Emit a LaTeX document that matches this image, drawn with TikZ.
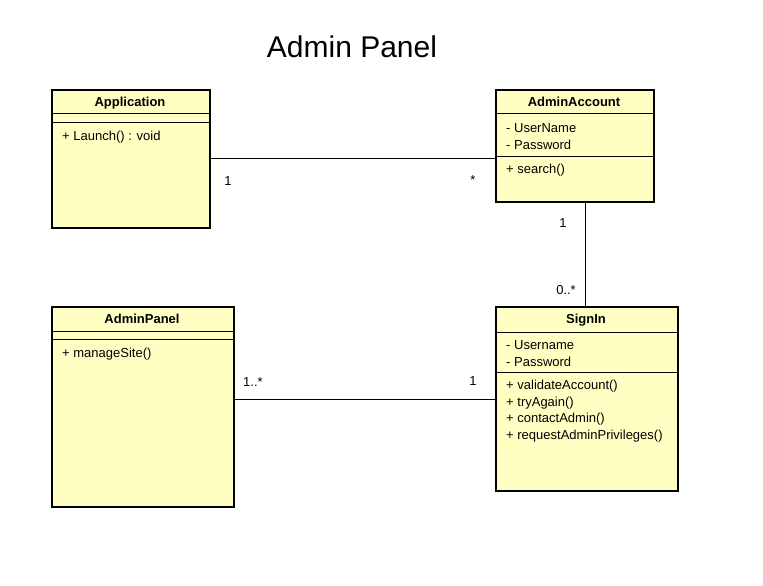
\documentclass[tikz,border=0pt]{standalone}
\usepackage{fontspec}
\setmainfont{Liberation Sans}
\usetikzlibrary{calc}
\definecolor{clsfill}{RGB}{255,255,195}
\tikzset{
  cls/.style={draw=black, line width=1.6pt, fill=clsfill, anchor=north west, inner sep=0pt},
  sep/.style={draw=black, line width=0.9pt},
  cname/.style={font=\fontsize{13}{15}\selectfont\bfseries, inner sep=0pt, text height=9.4pt, text depth=0pt},
  mem/.style={font=\fontsize{13}{15}\selectfont, anchor=west, inner sep=0pt},
  mult/.style={font=\fontsize{13}{15}\selectfont, inner sep=0pt},
  assoc/.style={draw=black, line width=0.8pt}
}
\begin{document}
\begin{tikzpicture}[x=1pt,y=-1pt]
\useasboundingbox[fill=white] (0,0) rectangle (763,586);
\node[font=\fontsize{30}{34}\selectfont, inner sep=0pt] (title) at (352,47) {Admin Panel};

% Application
\node[cls, minimum width=158pt, minimum height=138pt] (app) at (51,89) {};
\node[cname] (appn) at (130,102) {Application};
\draw[sep] (51,113) -- (209,113);
\draw[sep] (51,122) -- (209,122);
\node[mem] (appm1) at (62,137) {+ Launch() : void};

% AdminAccount
\node[cls, minimum width=158pt, minimum height=112pt] (acc) at (495,89) {};
\node[cname] (accn) at (574,102) {AdminAccount};
\draw[sep] (495,113) -- (653,113);
\draw[sep] (495,156) -- (653,156);
\node[mem] (acca1) at (506,128) {- UserName};
\node[mem] (acca2) at (506,145) {- Password};
\node[mem] (accm1) at (506,170) {+ search()};

% AdminPanel
\node[cls, minimum width=182pt, minimum height=200pt] (panel) at (51,306) {};
\node[cname] (paneln) at (142,319) {AdminPanel};
\draw[sep] (51,331) -- (233,331);
\draw[sep] (51,339) -- (233,339);
\node[mem] (panelm1) at (62,354) {+ manageSite()};

% SignIn
\node[cls, minimum width=182pt, minimum height=184pt] (sign) at (495,306) {};
\node[cname] (signn) at (586,319) {SignIn};
\draw[sep] (495,332) -- (677,332);
\draw[sep] (495,372) -- (677,372);
\node[mem] (signa1) at (506,345) {- Username};
\node[mem] (signa2) at (506,362) {- Password};
\node[mem] (signm1) at (506,386) {+ validateAccount()};
\node[mem] (signm2) at (506,403) {+ tryAgain()};
\node[mem] (signm3) at (506,419.5) {+ contactAdmin()};
\node[mem] (signm4) at (506,436) {+ requestAdminPrivileges()};

% connectors
\draw[assoc] (app.east) -- (app.east -| acc.west);
\node[mult] (m1) at (228,181) {1};
\node[mult] (m2) at (473,180) {*};

\coordinate (accb) at ($(acc.south)+(11,0)$);
\draw[assoc] (accb) -- (accb |- sign.north);
\node[mult] (m3) at (563,223) {1};
\node[mult] (m4) at (566,290) {0..*};

\coordinate (pe) at ($(panel.east)+(0,-7)$);
\draw[assoc] (pe) -- (pe -| sign.west);
\node[mult] (m5) at (253,382) {1..*};
\node[mult] (m6) at (473,381) {1};
\end{tikzpicture}
\end{document}
